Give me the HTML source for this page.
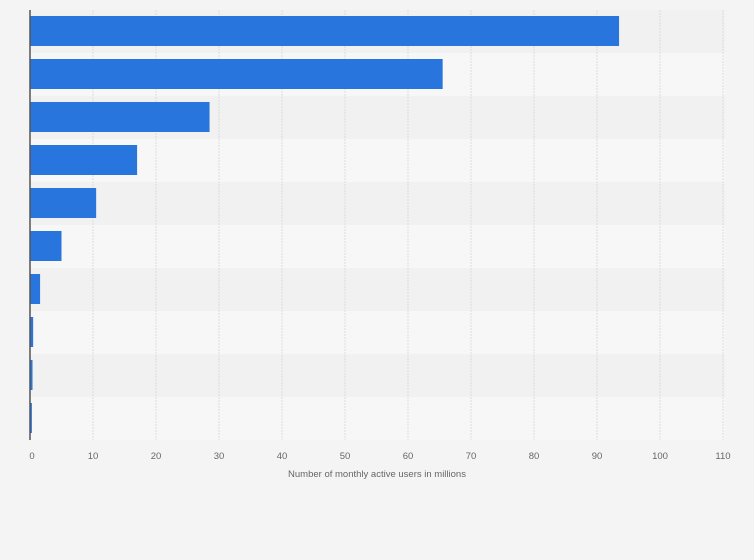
<!DOCTYPE html>
<html><head><meta charset="utf-8"><style>
body{margin:0;background:#f4f4f4;font-family:"Liberation Sans",sans-serif}
svg{display:block}
</style></head><body>
<svg width="754" height="560">
<rect width="754" height="560" fill="#f4f4f4"/>
<g id="bands"></g><g id="grid"></g><g id="bars"></g><g id="ticks"></g>
<line x1="30" y1="10" x2="30" y2="440" stroke="#555" stroke-width="1.5"/>
<text x="377" y="477" text-anchor="middle" font-size="9.5" fill="#666">Number of monthly active users in millions</text>
</svg>
<script>
const categories=["Item 1","Item 2","Item 3","Item 4","Item 5","Item 6","Item 7","Item 8","Item 9","Item 10"];
const values=[93.5,65.5,28.5,17,10.5,5,1.6,0.5,0.4,0.3];
const tickValues=[0,10,20,30,40,50,60,70,80,90,100,110];
const tickLabels=["0","10","20","30","40","50","60","70","80","90","100","110"];
const NS="http://www.w3.org/2000/svg";
const x0=30,pxPerUnit=6.3,plotTop=10,rowH=43,barH=30;
const xs=v=>x0+v*pxPerUnit;
const bands=document.getElementById('bands'),grid=document.getElementById('grid'),bars=document.getElementById('bars'),ticks=document.getElementById('ticks');
function mk(t,a){const e=document.createElementNS(NS,t);for(const k in a)e.setAttribute(k,a[k]);return e;}
categories.forEach((c,i)=>{
 const b=mk('rect',{x:x0,y:plotTop+i*rowH,width:xs(110)-x0+2,height:rowH,fill:i%2?'#f7f7f7':'#f1f1f1'});
 
 
 bands.appendChild(b);
});
tickValues.forEach((v,i)=>{
 if(v>0){const l=mk('line',{x1:xs(v),y1:plotTop,x2:xs(v),y2:plotTop+rowH*categories.length,stroke:'#dcdcdc','stroke-dasharray':'2,1'});
 
 
 grid.appendChild(l);}
 const t=mk('text',{x:xs(v)+(v===0?2:0),y:459,'text-anchor':'middle','font-size':'9.5',fill:'#666'});
 t.textContent=tickLabels[i];
 
 
 ticks.appendChild(t);
});
values.forEach((v,i)=>{
 const r=mk('rect',{x:x0,y:plotTop+i*rowH+6,width:Math.max(xs(v)-x0,1),height:barH,fill:'#2876dd'});
 
 
 bars.appendChild(r);
});
</script>
</body></html>
